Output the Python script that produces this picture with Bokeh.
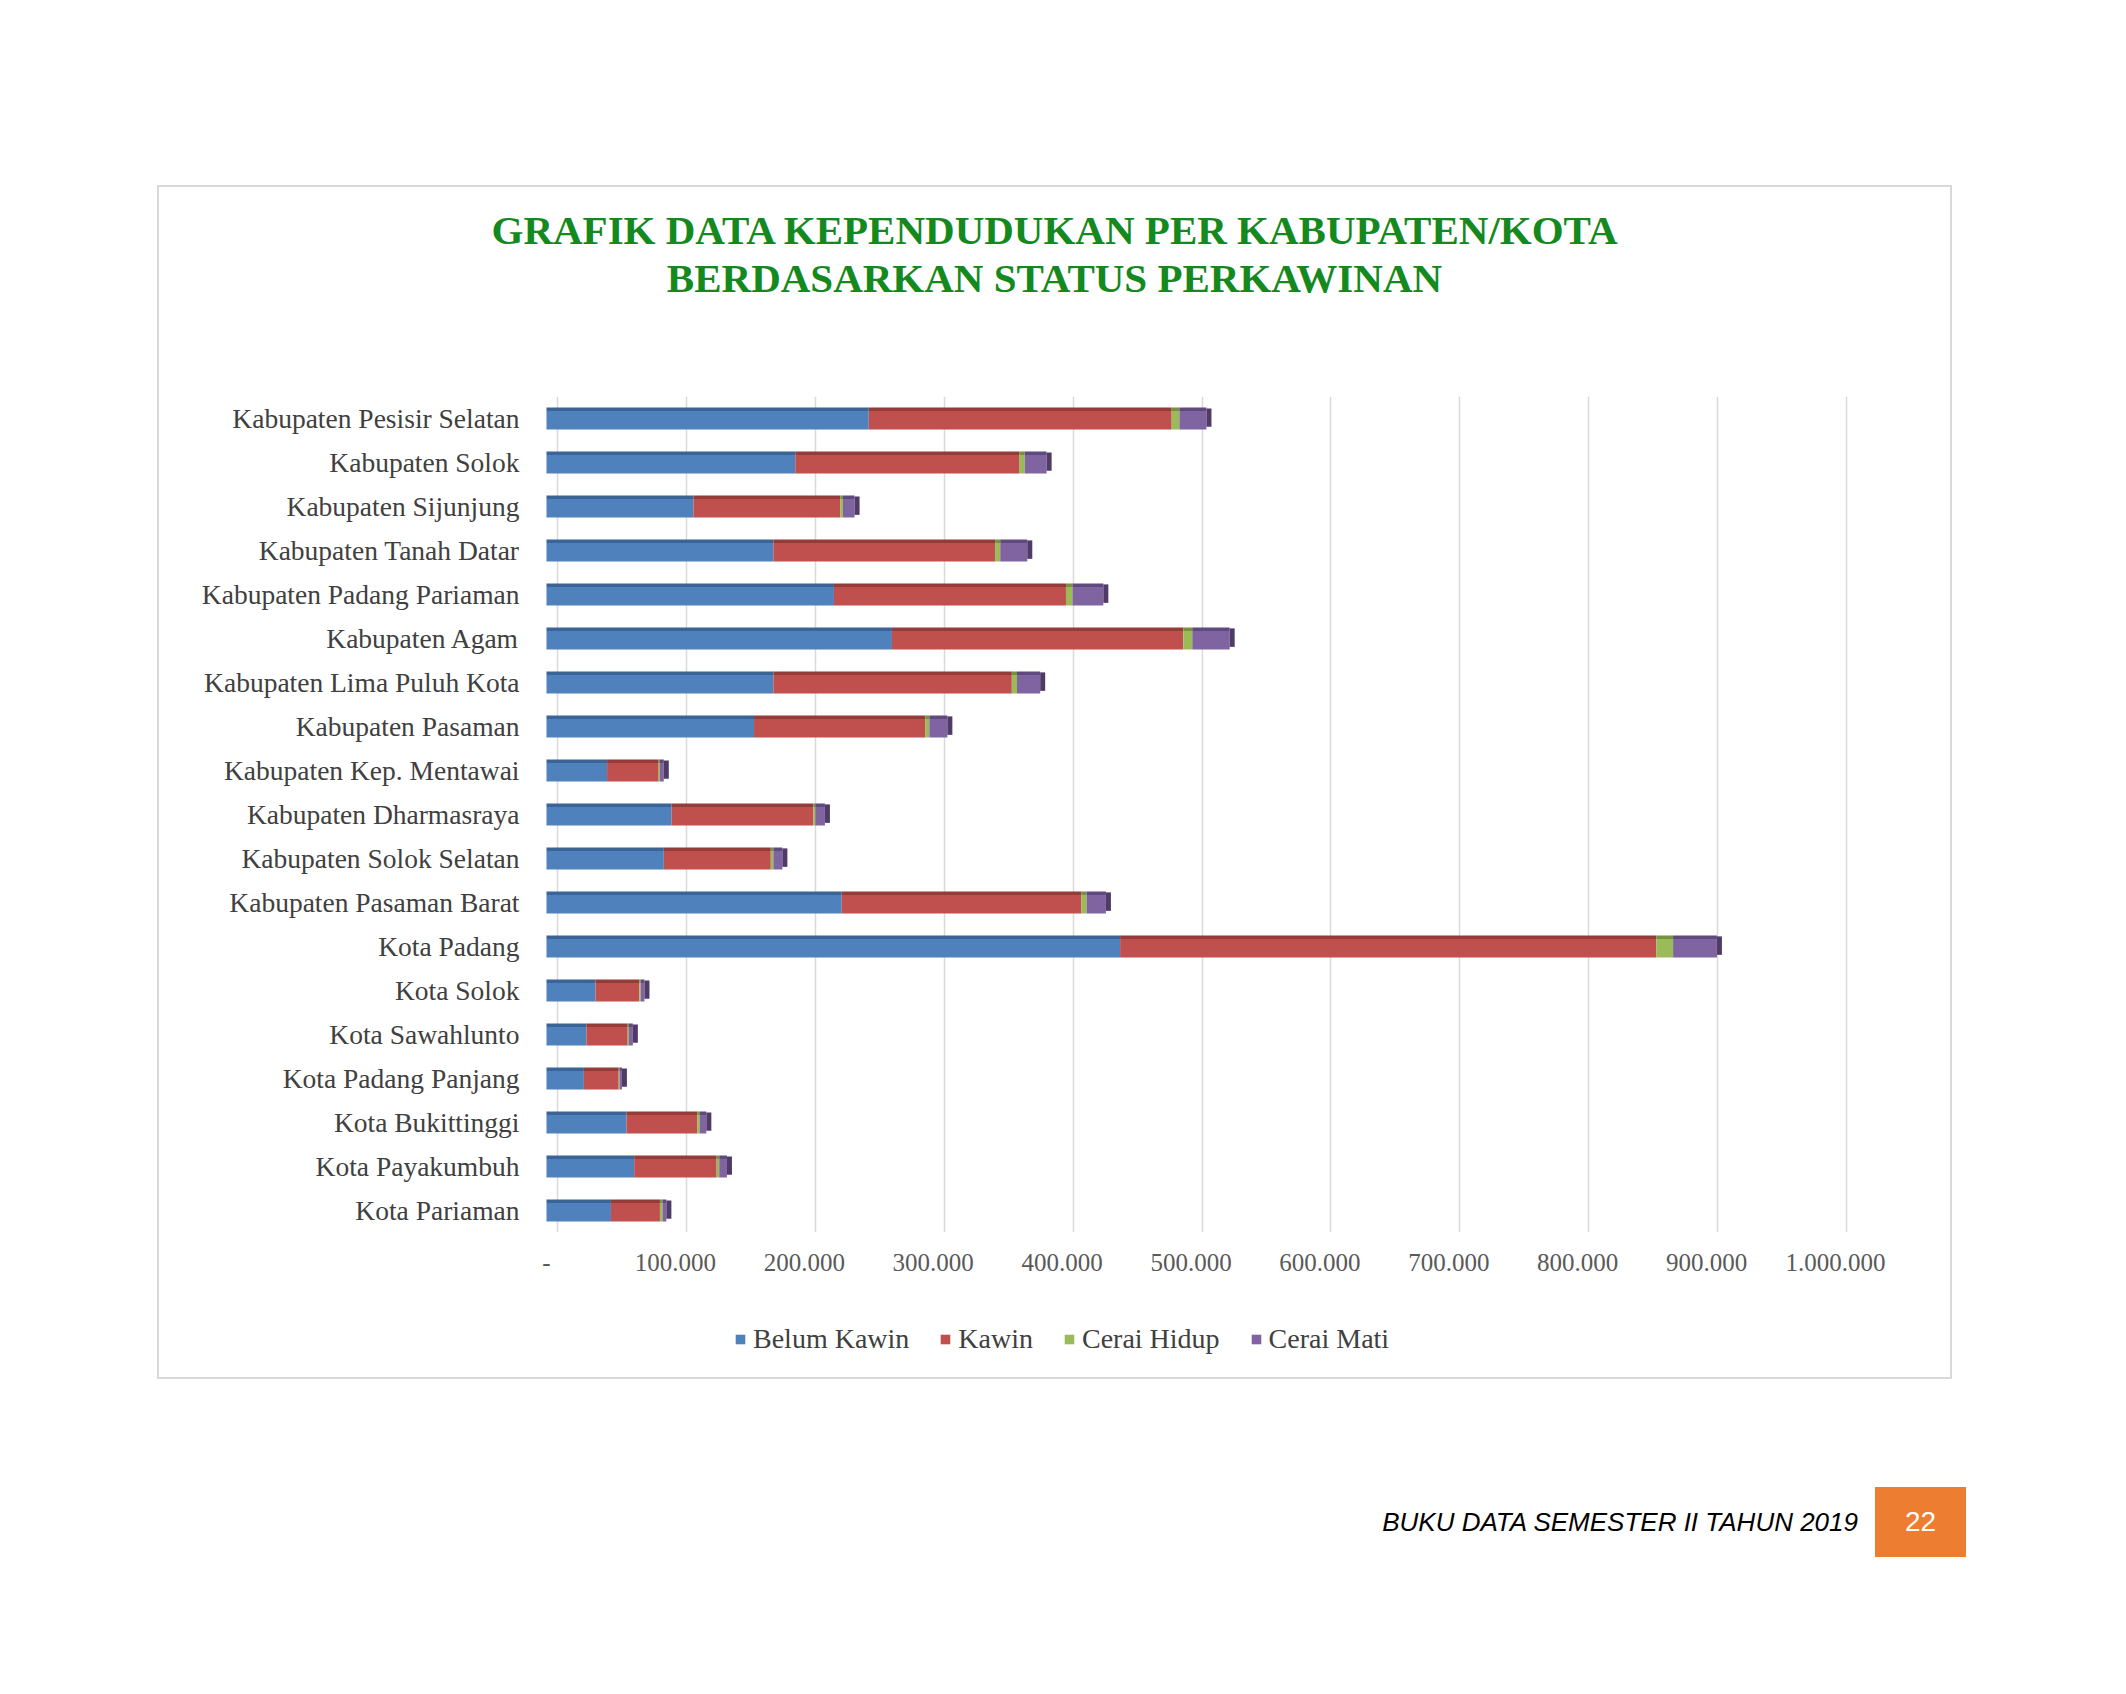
from bokeh.plotting import figure
from bokeh.layouts import column, row
from bokeh.models import (ColumnDataSource, FactorRange, Range1d, FixedTicker, LinearAxis,
                          Legend, LegendItem, Div, Spacer)
from bokeh.transform import dodge
from bokeh.embed import file_html
from bokeh.resources import INLINE

categories = [
    "Kabupaten Pesisir Selatan", "Kabupaten Solok", "Kabupaten Sijunjung",
    "Kabupaten Tanah Datar", "Kabupaten Padang Pariaman", "Kabupaten Agam",
    "Kabupaten Lima Puluh Kota", "Kabupaten Pasaman", "Kabupaten Kep. Mentawai",
    "Kabupaten Dharmasraya", "Kabupaten Solok Selatan", "Kabupaten Pasaman Barat",
    "Kota Padang", "Kota Solok", "Kota Sawahlunto", "Kota Padang Panjang",
    "Kota Bukittinggi", "Kota Payakumbuh", "Kota Pariaman",
]
belum_kawin = [250000, 193000, 114000, 176000, 223000, 268000, 176000, 161000, 47000,
               97000, 91000, 229000, 445000, 38000, 31000, 29000, 62000, 68000, 50000]
kawin = [235000, 174000, 114000, 172000, 180000, 226000, 185000, 133000, 40000,
         110000, 83000, 186000, 416000, 34000, 32000, 27000, 55000, 64000, 38000]
cerai_hidup = [6000, 4000, 2000, 4000, 5000, 7000, 4000, 3000, 1000,
               1500, 2000, 4000, 13000, 1000, 1000, 700, 2000, 2000, 2000]
cerai_mati = [21000, 17000, 9000, 21000, 24000, 29000, 18000, 14000, 3000,
              7500, 7000, 15000, 34000, 3000, 3000, 1800, 5000, 6000, 3000]

series = ["Belum Kawin", "Kawin", "Cerai Hidup", "Cerai Mati"]
tick_values = [0, 100000, 200000, 300000, 400000, 500000, 600000, 700000, 800000, 900000, 1000000]
tick_labels = ["-", "100.000", "200.000", "300.000", "400.000", "500.000", "600.000",
               "700.000", "800.000", "900.000", "1.000.000"]

title_lines = ["GRAFIK DATA KEPENDUDUKAN PER KABUPATEN/KOTA", "BERDASARKAN STATUS PERKAWINAN"]
footer_text = "BUKU DATA SEMESTER II TAHUN 2019"
page_number = "22"

colors = ["#4f81bd", "#c0504d", "#9bbb59", "#8064a2"]
dark_colors = ["#3a6496", "#943c3a", "#76913f", "#5f4a7d"]
cap_color = "#4e3c66"

# ---- layout geometry (page pixels) ----
BOX_L, BOX_T, BOX_W, BOX_H = 159, 187, 1791, 1190
TITLE_H = 150
LEG_H = 87
PW, PH = BOX_W, BOX_H - TITLE_H - LEG_H
P_TOP = BOX_T + TITLE_H
ZERO_PX, SPAN_PX = 557, 1289          # page x of value 0 on the back wall, px per 1,000,000
FRAME_L_PAGE, FRAME_R_PAGE = 540, 1850
FRAME_L, FRAME_R = FRAME_L_PAGE - BOX_L, FRAME_R_PAGE - BOX_L
FRAME_T, FRAME_B = 396 - P_TOP, 1232 - P_TOP
XMAX = 1000000
UNITS_PER_PX = XMAX / SPAN_PX
DEPTH_PX = 11                          # front face shifted left of the back wall
CAP_PX = 5                             # visible depth of bar end face

x_start = -(ZERO_PX - FRAME_L_PAGE) * UNITS_PER_PX
x_end = (FRAME_R_PAGE - ZERO_PX) * UNITS_PER_PX
front_shift = DEPTH_PX * UNITS_PER_PX

totals = [a + b + c + d for a, b, c, d in zip(belum_kawin, kawin, cerai_hidup, cerai_mati)]
source = ColumnDataSource(dict(cat=categories, bk=belum_kawin, k=kawin,
                               ch=cerai_hidup, cm=cerai_mati, total=totals,
                               cap_right=[t + CAP_PX * UNITS_PER_PX for t in totals]))
stack_keys = ["bk", "k", "ch", "cm"]

p = figure(width=PW, height=PH,
           y_range=FactorRange(factors=list(reversed(categories))),
           x_range=Range1d(x_start, x_end), x_axis_location=None,
           output_backend="svg", toolbar_location=None,
           min_border_left=FRAME_L, min_border_right=PW - FRAME_R,
           min_border_top=FRAME_T, min_border_bottom=PH - FRAME_B)
p.extra_x_ranges = {"front": Range1d(x_start + front_shift, x_end + front_shift)}
p.outline_line_color = None
p.background_fill_color = "white"
p.border_fill_color = "white"

p.xgrid.ticker = FixedTicker(ticks=tick_values)
p.xgrid.grid_line_color = "#d9d9d9"
p.xgrid.grid_line_width = 1.5
p.ygrid.grid_line_color = None

p.hbar_stack(stack_keys, y=dodge("cat", -0.04, range=p.y_range), height=0.42,
             color=colors, source=source, line_width=0, x_range_name="front")
p.hbar_stack(stack_keys, y=dodge("cat", 0.21, range=p.y_range), height=0.08,
             color=dark_colors, source=source, line_width=0, x_range_name="front")
p.hbar(y=dodge("cat", 0.02, range=p.y_range), left="total", right="cap_right", height=0.42,
       color=cap_color, line_width=0, source=source, x_range_name="front")

xa = LinearAxis(x_range_name="front", ticker=FixedTicker(ticks=tick_values))
xa.major_label_overrides = {v: t for v, t in zip(tick_values, tick_labels)}
xa.axis_line_color = None
xa.major_tick_line_color = None
xa.minor_tick_line_color = None
xa.major_tick_out = 0
xa.major_tick_in = 0
xa.major_label_standoff = 21
xa.major_label_text_font = "Liberation Serif"
xa.major_label_text_font_size = "25px"
xa.major_label_text_color = "#595959"
p.add_layout(xa, "below")

ya = p.yaxis[0]
ya.axis_line_color = None
ya.major_tick_line_color = None
ya.minor_tick_line_color = None
ya.major_tick_out = 0
ya.major_tick_in = 0
ya.major_label_standoff = 21
ya.major_label_text_font = "Liberation Serif"
ya.major_label_text_font_size = "27.5px"
ya.major_label_text_color = "#404040"

# ---- legend strip (its own small figure so the legend is not clipped) ----
pl = figure(width=BOX_W, height=LEG_H, x_range=Range1d(0, 1), y_range=Range1d(0, 1),
            x_axis_location=None, y_axis_location=None,
            output_backend="svg", toolbar_location=None,
            min_border_left=FRAME_L, min_border_right=PW - FRAME_R,
            min_border_top=0, min_border_bottom=0)
pl.outline_line_color = None
pl.grid.visible = False
pl.border_fill_color = "white"
pl.background_fill_color = "white"
# zero-size proxy glyphs: they draw nothing in the strip, only their legend swatch
legend_renderers = [pl.hbar(y=[0], left=[0], right=[0], height=0, color=c, line_width=0)
                    for c in colors]
legend = Legend(items=[LegendItem(label=s, renderers=[r]) for s, r in zip(series, legend_renderers)],
                orientation="horizontal", location=(734 - FRAME_L_PAGE, 22),
                glyph_width=12, glyph_height=12, label_standoff=7, spacing=30,
                padding=0, margin=0, border_line_color=None, background_fill_alpha=0,
                label_text_font="Liberation Serif", label_text_font_size="28px",
                label_text_color="#404040")
pl.add_layout(legend, "center")

title_html = (
    '<div style="width:%dpx;text-align:center;font-family:\'Liberation Serif\';'
    'font-weight:bold;font-size:41px;line-height:48px;color:#13891e;padding-top:19px;">'
    '%s<br>%s</div>' % (BOX_W, title_lines[0], title_lines[1]))
title_div = Div(text=title_html, width=BOX_W, height=TITLE_H, margin=0)

chart_box = column(title_div, p, pl, width=BOX_W, height=BOX_H, spacing=0,
                   styles={"outline": "2.5px solid #d9d9d9", "background": "white"})

footer_div = Div(text=('<div style="width:700px;height:70px;line-height:70px;text-align:right;'
                       'font-family:\'Liberation Sans\';font-style:italic;font-size:26px;'
                       'color:#000;">%s</div>' % footer_text),
                 width=700, height=70, margin=0)
page_div = Div(text=('<div style="width:91px;height:70px;line-height:70px;text-align:center;'
                     'background:#ed7d31;font-family:\'Liberation Sans\';font-size:28px;'
                     'color:#fff;">%s</div>' % page_number),
               width=91, height=70, margin=0)

root = column(
    Spacer(width=10, height=BOX_T),
    row(Spacer(width=BOX_L, height=10), chart_box, spacing=0),
    Spacer(width=10, height=1487 - (BOX_T + BOX_H)),
    row(Spacer(width=1158, height=10), footer_div, Spacer(width=17, height=10), page_div,
        spacing=0),
    spacing=0,
)

open("out.html", "w").write(file_html(root, INLINE))
